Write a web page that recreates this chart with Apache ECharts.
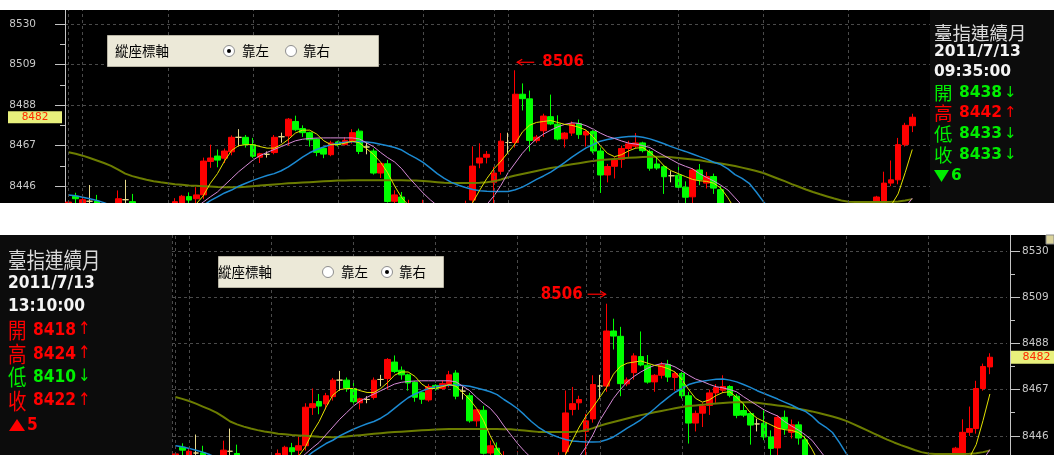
<!DOCTYPE html>
<html><head><meta charset="utf-8">
<script src="https://cdn.jsdelivr.net/npm/echarts@6/dist/echarts.min.js"></script>
<style>html,body{margin:0;padding:0;background:#fff}#c{width:1054px;height:455px}</style>
</head><body><div id="c"></div>
<script>
// ---------- data ----------
const sessionTimes = ['08:50','08:55','09:00','09:05','09:10','09:15','09:20','09:25','09:30','09:35','09:40','09:45','09:50','09:55',
'10:00','10:05','10:10','10:15','10:20','10:25','10:30','10:35','10:40','10:45','10:50','10:55',
'11:00','11:05','11:10','11:15','11:20','11:25','11:30','11:35','11:40','11:45','11:50','11:55',
'12:00','12:05','12:10','12:15','12:20','12:25','12:30','12:35','12:40','12:45','12:50','12:55',
'13:00','13:05','13:10','13:15','13:20','13:25','13:30','13:35','13:40','13:45'];
const days = ['2011/07/13','2011/07/14'];

const opens = [8430,8440.8,8434,8438.2,8438.3,8433,8430,8434,8439,8438,
8433,8429,8431,8428,8430,8432,8436,8440.6,8439.5,8441.5,
8458.8,8461.6,8460.5,8463.8,8471.3,8471.3,8467.5,8461,8462.5,8463.4,
8471.6,8472,8479.5,8475.8,8473.7,8470.3,8465.6,8462.3,8468.9,8467.5,
8469.3,8474.5,8466.3,8464.2,8452.8,8457.6,8438.2,8440.4,8433,8436,
8424,8430,8418,8422,8416,8420,8425,8438.8,8458,8461,
8448,8453.7,8468.6,8468.6,8493.6,8491.2,8469.6,8474.7,8482,8478.1,
8470.5,8473.5,8478.4,8472.5,8474.3,8464.2,8451.8,8456.3,8459.8,8465.5,
8466.7,8468.4,8464,8457.5,8456.1,8451.4,8451.7,8445.5,8440.5,8454.4,
8447.6,8451,8444.2,8436,8430,8426,8428,8422,8418,8421,
8416,8413,8416,8412,8415,8418,8414,8417,8415,8419,
8421,8418,8422,8425,8430,8437,8447.6,8449.3,8467.5,8477.3];
const closes = [8437.8,8439.5,8439,8438.2,8433,8430,8434,8439.5,8439,8433,
8429,8431,8428,8430,8432,8438,8440.8,8438.8,8441.5,8459,
8460.6,8459.5,8464.2,8471.3,8471.3,8467.7,8461.5,8462.8,8462.5,8471.3,
8471.6,8480.7,8475.2,8473.7,8470,8463.5,8462.6,8468.4,8467.5,8469.7,
8473.7,8464,8466.3,8452.8,8457.8,8438.1,8441.5,8436,8436,8424,
8430,8417,8422,8416,8420,8425,8436,8456.4,8460.6,8462.5,
8452.8,8469.3,8468.6,8493.6,8491.3,8469.7,8471.4,8482.3,8478.2,8470.4,
8473.5,8478.2,8472.7,8474.3,8464.2,8451.8,8456.2,8459.6,8465.5,8467.9,
8468.4,8464.4,8455.3,8455.4,8450.9,8451.4,8445.5,8440.3,8454.4,8449.3,
8451,8445,8436,8430,8426,8428,8422,8418,8421,8416,
8413,8416,8412,8415,8418,8414,8417,8415,8419,8421,
8418,8422,8425,8430,8440.4,8447.6,8449.3,8467.5,8477.5,8481.7];
const highs = [8438.5,8442.6,8440,8446.6,8441.5,8435,8436,8443.8,8449.3,8442,
8435,8433,8433,8432,8434,8439.8,8441.5,8442.8,8445.5,8460.8,
8467.5,8465,8465.5,8472.3,8475.5,8472.5,8471,8463.3,8464,8472.5,
8473.7,8481.3,8482.5,8477.5,8474.2,8470.8,8466,8469.5,8469.5,8471.3,
8475.5,8475.8,8468.4,8465.5,8458,8459.6,8443.9,8443,8439,8437,
8439,8431,8424,8425,8423,8428,8438.5,8466.6,8468.2,8464.2,
8456,8473.5,8473.7,8506,8499.2,8495.5,8472.5,8483.5,8493.4,8482.7,
8474,8479.5,8480.5,8475,8475,8466,8457.5,8461,8467,8469.5,
8473.5,8469,8465,8461,8457,8453.8,8457.6,8448.5,8455.3,8457.5,
8453.4,8452.5,8446,8436.5,8432,8431,8430,8424,8423,8422,
8418,8418,8417,8417,8420,8419,8419,8420,8421,8423,
8423,8424,8427,8436,8441,8453.5,8459.3,8471,8478.8,8483.5];
const lows = [8428,8436,8432,8434,8431,8427,8428,8432,8435,8433,
8427,8426,8425,8426,8428,8430,8434,8436.5,8437,8439.3,
8455.5,8455.8,8458,8462,8466.5,8466,8460.6,8458,8460.8,8462.5,
8468.5,8467,8474.5,8471.5,8466.5,8461.5,8460.5,8461.5,8466.5,8467,
8468,8462.6,8462.5,8452,8450.2,8437.5,8434,8433,8430,8422,
8421,8414,8410,8413,8412,8418,8423,8435,8455.3,8457.8,
8435,8452,8463,8466,8485.2,8464,8468.5,8471.5,8477.6,8469.7,
8466,8472,8470.5,8466.5,8463,8442.5,8448,8450,8455.5,8461,
8465.5,8463.5,8454,8454.5,8442,8448,8444,8436.5,8436,8446.5,
8444.8,8442,8432,8428,8423,8424,8420,8415,8416,8413,
8410,8411,8409,8410,8413,8412,8412,8413,8414,8417,
8416,8417,8420,8424,8428,8433,8446,8447,8466.5,8474];

const ma5 = [8436,8436.5,8436.3,8436.8,8436.3,8435,8434.5,8435,8436,8435.5,
8434.5,8433,8432,8430.5,8430,8432,8434.5,8436,8436.8,8441,
8447.5,8452.5,8459,8464.5,8467,8467.5,8467.5,8466.5,8465.7,8465.7,
8467.5,8470.2,8473.5,8475,8475,8473,8469.5,8467.5,8467.5,8468.3,
8469.3,8468.5,8465.5,8462.5,8458.5,8453,8446,8440,8436,8432,
8429,8427,8426,8426,8427,8429,8432,8437.5,8444,8450,
8455,8459,8463.5,8468,8474,8477.5,8479,8479.5,8480,8479,
8478,8477.5,8476.5,8475,8471.5,8467,8463,8461.3,8462.3,8464.3,
8465.7,8466,8463.5,8460.5,8456.5,8454,8452.5,8451,8449.5,8448.8,
8448.5,8447.5,8445,8440,8434,8430,8427,8424,8421,8418,
8416,8414,8413,8412,8412,8412,8413,8414,8415,8417,
8419,8421,8423,8426,8429,8432,8436,8442,8453,8465];
const ma10 = [8435,8435,8435,8435,8434.5,8434,8433.5,8433.5,8434,8434,
8433.5,8433,8432.5,8432,8431.5,8431.5,8432,8433,8435,8437.8,
8440.5,8443,8446.5,8450,8453.5,8456.5,8459.5,8461.8,8463.5,8465,
8466.5,8468,8469.5,8470.3,8470.7,8470.9,8471,8471,8471,8471,
8471,8470.5,8468.5,8466.5,8463.5,8460.8,8458.5,8455,8450.5,8446.5,
8442.5,8439,8436,8433,8431,8430,8430,8431,8433,8436.5,
8441,8446.5,8453,8458,8463,8467,8470.5,8473,8475,8476.7,
8478,8478.8,8478.5,8477.3,8475.5,8473.5,8471.8,8470.7,8469.4,8468.3,
8467.8,8467,8466,8463.8,8461.8,8459.8,8457.8,8456.3,8455,8452.5,
8450.5,8448.7,8446.5,8444,8440,8436,8432,8429,8426,8423,
8421,8419,8418,8417,8416,8415.5,8415,8415,8415,8415.5,
8416,8417,8418,8419,8421,8424,8427,8431,8435,8439.8];
const ma20 = [8441.5,8441,8440.3,8439.5,8438.6,8437.5,8436,8435,8434,8433,
8432,8431,8430.5,8430,8430,8430.5,8431.5,8433,8434.5,8436,
8438.5,8440.5,8442.5,8444,8446,8447.5,8449,8450.3,8451.5,8452.5,
8454,8456,8458.5,8461,8463.3,8465,8466.3,8467.5,8468.3,8468.8,
8469,8469.1,8468.9,8468.5,8467.7,8466.9,8466,8464.7,8462.5,8460.5,
8458.3,8455.5,8452.5,8450,8448,8446.5,8445.3,8444.3,8443.7,8443.4,
8443.2,8443.2,8443.3,8444.2,8445.5,8447.5,8449.5,8451.3,8453.3,8455.7,
8458.3,8461,8463.5,8465.8,8467.5,8469.3,8470.2,8470.8,8471.3,8471.7,
8471.8,8471.3,8470.5,8469.3,8468,8466.5,8465.2,8464,8462.7,8461.3,
8460,8458.4,8457.2,8455,8452,8450,8447.5,8443,8438,8434,
8431,8428,8426,8424,8422,8420,8419,8418,8417,8416.5,
8416,8416,8416,8416,8416.5,8417,8418,8419,8420,8421];
const ma60 = [8463.6,8462.8,8461.8,8460.6,8459.3,8458,8456.5,8454.6,8452.5,8451.2,
8450.2,8449.3,8448.6,8448,8447.5,8447,8446.7,8446.4,8446.2,8446,
8445.8,8445.6,8445.5,8445.4,8445.5,8445.7,8446,8446.3,8446.6,8446.9,
8447.2,8447.5,8447.7,8447.9,8448.1,8448.3,8448.5,8448.7,8448.9,8449,
8449.1,8449.1,8449.1,8449.1,8449.1,8449.1,8449.1,8449.1,8449,8449,
8448.7,8448.4,8448.1,8447.8,8447.7,8447.7,8447.7,8447.7,8447.8,8448,
8448.5,8449.5,8450.6,8451.5,8452.3,8453.1,8453.9,8454.7,8455.4,8456,
8456.7,8457.3,8457.9,8458.5,8459.1,8459.5,8459.8,8460.1,8460.4,8460.7,
8460.9,8461.1,8461.2,8461.3,8461.2,8461,8460.6,8460.2,8459.8,8459.4,
8458.8,8458.3,8457.7,8457.1,8456.4,8455.6,8454.8,8453.9,8452.8,8451.4,
8450,8448.6,8447.1,8445.7,8444.3,8443,8441.8,8440.7,8439.6,8438.6,
8438,8437.8,8437.8,8437.8,8437.8,8437.8,8437.9,8438.1,8438.6,8439.3];

const majorTicks = [8446, 8467, 8488, 8509, 8530];
const minorTicks = [8456.5, 8477.5, 8498.5, 8519.5];
const Y_MIN = 8437.3, Y_MAX = 8537.2;
const N_SLOTS = 122;

// ---------- build ----------
const categories = days.flatMap(d => sessionTimes.map(t => d + ' ' + t));
const vLines = categories.filter(c => c.endsWith(':00') || c.endsWith(' ' + sessionTimes[0]));
const candleData = opens.map((o, k) => [o, closes[k], lows[k], highs[k]]);

const grids = [
  {left: 65, top: 10, width: 865, height: 193},
  {left: 172, top: 235, width: 835, height: 220}
];
const TICK = '#c4c4c4';
const GRIDLINE = '#4a4a4a';

function yAxesFor(g, pos) {
  const common = {type: 'value', gridIndex: g, min: Y_MIN, max: Y_MAX, position: pos, offset: pos === 'right' ? 3 : 0};
  return [
    Object.assign({}, common, {
      axisLine: {show: true, lineStyle: {color: TICK, width: 1}},
      axisTick: {show: true, length: 10, customValues: majorTicks, lineStyle: {color: TICK}},
      axisLabel: {show: true, customValues: majorTicks, formatter: v => String(v), color: '#c8c8c8',
                  fontSize: 10.5, fontFamily: 'DejaVu Sans', margin: pos === 'left' ? 29 : 12},
      splitLine: {show: true, lineStyle: {color: GRIDLINE, type: [3, 3], width: 1}}
    }),
    Object.assign({}, common, {
      axisLine: {show: false},
      axisTick: {show: true, length: 5, customValues: minorTicks, lineStyle: {color: TICK}},
      axisLabel: {show: false},
      splitLine: {show: false}
    })
  ];
}
function xAxisFor(g) {
  return {type: 'category', gridIndex: g, data: categories, boundaryGap: true, max: N_SLOTS - 1,
    axisLine: {show: false}, axisTick: {show: false}, axisLabel: {show: false}, splitLine: {show: false}};
}
const maDefs = [
  {data: ma60, color: '#6c7d00', width: 2},
  {data: ma20, color: '#1c8ad2', width: 1.5},
  {data: ma10, color: '#d68ad6', width: 1},
  {data: ma5,  color: '#e2e200', width: 1}
];
const series = [];
[0, 1].forEach(g => {
  series.push({type: 'candlestick', xAxisIndex: g, yAxisIndex: g * 2, data: candleData, barWidth: '88%',
    clip: true, z: 3, silent: true,
    itemStyle: {color: '#ff0000', color0: '#00ff00', borderColor: '#ff0000', borderColor0: '#00ff00',
                borderColorDoji: '#eadb8c', borderWidth: 1}});
});
[0, 1].forEach(g => {
  maDefs.forEach(m => series.push({type: 'line', xAxisIndex: g, yAxisIndex: g * 2, data: m.data,
    showSymbol: false, symbol: 'none', clip: true, z: 4, silent: true,
    lineStyle: {color: m.color, width: m.width}}));
  series.push({type: 'line', xAxisIndex: g, yAxisIndex: g * 2, data: [], z: 1, silent: true,
    markLine: {silent: true, symbol: ['none', 'none'], label: {show: false}, animation: false,
      lineStyle: {color: GRIDLINE, type: [3, 3], width: 1},
      emphasis: {disabled: true},
      data: vLines.map(c => ({xAxis: c}))}});
});

const chart = echarts.init(document.getElementById('c'));
chart.setOption({
  animation: false,
  backgroundColor: '#ffffff',
  grid: grids,
  xAxis: [xAxisFor(0), xAxisFor(1)],
  yAxis: yAxesFor(0, 'left').concat(yAxesFor(1, 'right')),
  series: series
});

// ---------- overlays ----------
const CJK = '"Noto Sans CJK TC"';
const RED = '#ff0000', GREEN = '#00ee00';
const gfx = [];
const rect = (x, y, w, h, fill, z, extra) => gfx.push(Object.assign({type: 'rect', z: z, silent: true,
  shape: {x: x, y: y, width: w, height: h}, style: {fill: fill}}, extra || {}));
const text = (x, y, t, fill, font, opts) => gfx.push(Object.assign({type: 'text', x: x, y: y, z: 100, silent: true,
  style: {text: t, fill: fill, font: font, align: (opts && opts.align) || 'left', verticalAlign: 'middle'}},
  (opts && opts.scaleY) ? {scaleY: opts.scaleY} : {}));

// panel backgrounds and the white gap between the two screenshots
rect(0, 10, 930, 193, '#000000', -100);
rect(930, 10, 124, 193, '#0c0c0c', -100);
rect(0, 235, 172, 220, '#0c0c0c', -100);
rect(172, 235, 882, 220, '#000000', -100);
rect(0, 0, 1054, 10, '#ffffff', 60);
rect(0, 203, 1054, 32, '#ffffff', 60);
gfx.push({type: 'line', z: 1, silent: true, shape: {x1: 172.5, y1: 235, x2: 172.5, y2: 455},
  style: {stroke: GRIDLINE, lineWidth: 1, lineDash: [3, 3]}});
rect(1046, 235, 8, 9, '#d9d29a', 61, {style: {fill: '#d9d29a', stroke: '#8a8a8a', lineWidth: 1}});

// info panels
function infoPanel(x0, rows, quote, sign, scaleY) {
  const o = scaleY ? {scaleY: scaleY} : {};
  text(x0, rows[0], '臺指連續月', '#dadada', '18.5px ' + CJK, o);
  text(x0, rows[1], quote.date, '#f4f4f4', 'bold 15.5px "DejaVu Sans"', o);
  text(x0, rows[2], quote.time, '#f4f4f4', 'bold 15.5px "DejaVu Sans"', o);
  quote.items.forEach((it, k) => {
    const y = rows[3 + k];
    const c = it.up ? RED : GREEN;
    text(x0, y, it.label, c, '18.5px ' + CJK, o);
    text(x0 + 25, y, it.value, c, 'bold 15.5px "DejaVu Sans"', o);
    text(x0 + 70, y, it.up ? '↑' : '↓', c, '15px "DejaVu Sans"', o);
  });
  const y = rows[7];
  const c = sign.up ? RED : GREEN;
  const pts = sign.up ? [[x0 + 1, y + 6], [x0 + 17, y + 6], [x0 + 9, y - 6]] : [[x0, y - 6], [x0 + 15, y - 6], [x0 + 7.5, y + 6]];
  gfx.push({type: 'polygon', z: 100, silent: true, shape: {points: pts}, style: {fill: c}});
  text(x0 + (sign.up ? 19 : 17), y, sign.text, c, 'bold 15.5px "DejaVu Sans"', o);
}
infoPanel(934, [33, 52, 72, 93, 113, 134, 155, 176],
  {date: '2011/7/13', time: '09:35:00', items: [
    {label: '開', value: '8438', up: false}, {label: '高', value: '8442', up: true},
    {label: '低', value: '8433', up: false}, {label: '收', value: '8433', up: false}]},
  {up: false, text: '6'});
infoPanel(8, [260, 283, 306.5, 330, 354, 377, 400.5, 425],
  {date: '2011/7/13', time: '13:10:00', items: [
    {label: '開', value: '8418', up: true}, {label: '高', value: '8424', up: true},
    {label: '低', value: '8410', up: false}, {label: '收', value: '8422', up: true}]},
  {up: true, text: '5'}, 1.15);

// axis-side selector boxes
function selector(bx, by, bw, textX, r1x, r2x, leftChecked) {
  const cy = by + 15.5;
  rect(bx, by, bw, 31, '#ece9d8', 90, {style: {fill: '#ece9d8', stroke: '#b8b4a4', lineWidth: 1}});
  text(textX, cy, '縱座標軸', '#000000', '13.5px ' + CJK);
  [[r1x, leftChecked], [r2x, !leftChecked]].forEach(([rx, on]) => {
    gfx.push({type: 'circle', z: 100, silent: true, shape: {cx: rx, cy: cy, r: 5.5},
      style: {fill: '#ffffff', stroke: '#8e8e8e', lineWidth: 1}});
    if (on) gfx.push({type: 'circle', z: 101, silent: true, shape: {cx: rx, cy: cy, r: 2}, style: {fill: '#000000'}});
  });
  text(r1x + 13, cy, '靠左', '#000000', '13.5px ' + CJK);
  text(r2x + 12, cy, '靠右', '#000000', '13.5px ' + CJK);
}
selector(107.5, 35.5, 271, 115, 229, 291, true);
selector(218.5, 256.5, 225, 218, 328, 387, false);

// peak annotation + last price tags
const peakVal = Math.max.apply(null, highs);
const peakIdx = highs.indexOf(peakVal);
const lastClose = closes[closes.length - 1];
const tagText = String(Math.round(lastClose));

const pT = chart.convertToPixel({seriesIndex: 0}, [peakIdx, peakVal]);
{
  const ay = pT[1] - 8, ax = pT[0] + 2;
  gfx.push({type: 'line', z: 100, silent: true, shape: {x1: ax, y1: ay, x2: ax + 17, y2: ay}, style: {stroke: RED, lineWidth: 1.2}});
  gfx.push({type: 'polyline', z: 100, silent: true, shape: {points: [[ax + 5, ay - 3], [ax, ay], [ax + 5, ay + 3]]}, style: {stroke: RED, lineWidth: 1.2, fill: null}});
  text(ax + 25, ay, String(peakVal), RED, 'bold 15px "DejaVu Sans"');
}
const pB = chart.convertToPixel({seriesIndex: 1}, [peakIdx, peakVal]);
{
  const ay = pB[1] - 9.5, ax = pB[0] - 1;
  gfx.push({type: 'line', z: 100, silent: true, shape: {x1: ax - 18, y1: ay, x2: ax, y2: ay}, style: {stroke: RED, lineWidth: 1.2}});
  gfx.push({type: 'polyline', z: 100, silent: true, shape: {points: [[ax - 5, ay - 3], [ax, ay], [ax - 5, ay + 3]]}, style: {stroke: RED, lineWidth: 1.2, fill: null}});
  text(ax - 23, ay, String(peakVal), RED, 'bold 15px "DejaVu Sans"', {align: 'right', scaleY: 1.12});
}
const tyT = chart.convertToPixel({seriesIndex: 0}, [0, lastClose])[1];
rect(8, tyT - 6, 54, 12, '#e8f07c', 95);
text(35, tyT, tagText, '#ff2a00', '10.5px "DejaVu Sans"', {align: 'center'});
const tyB = chart.convertToPixel({seriesIndex: 1}, [0, lastClose])[1];
rect(1011, tyB - 6.5, 43, 13, '#e8f07c', 95);
text(1036.5, tyB, tagText, '#ff2a00', '11px "DejaVu Sans"', {align: 'center'});

chart.setOption({graphic: {elements: gfx}});
</script>
</body></html>
